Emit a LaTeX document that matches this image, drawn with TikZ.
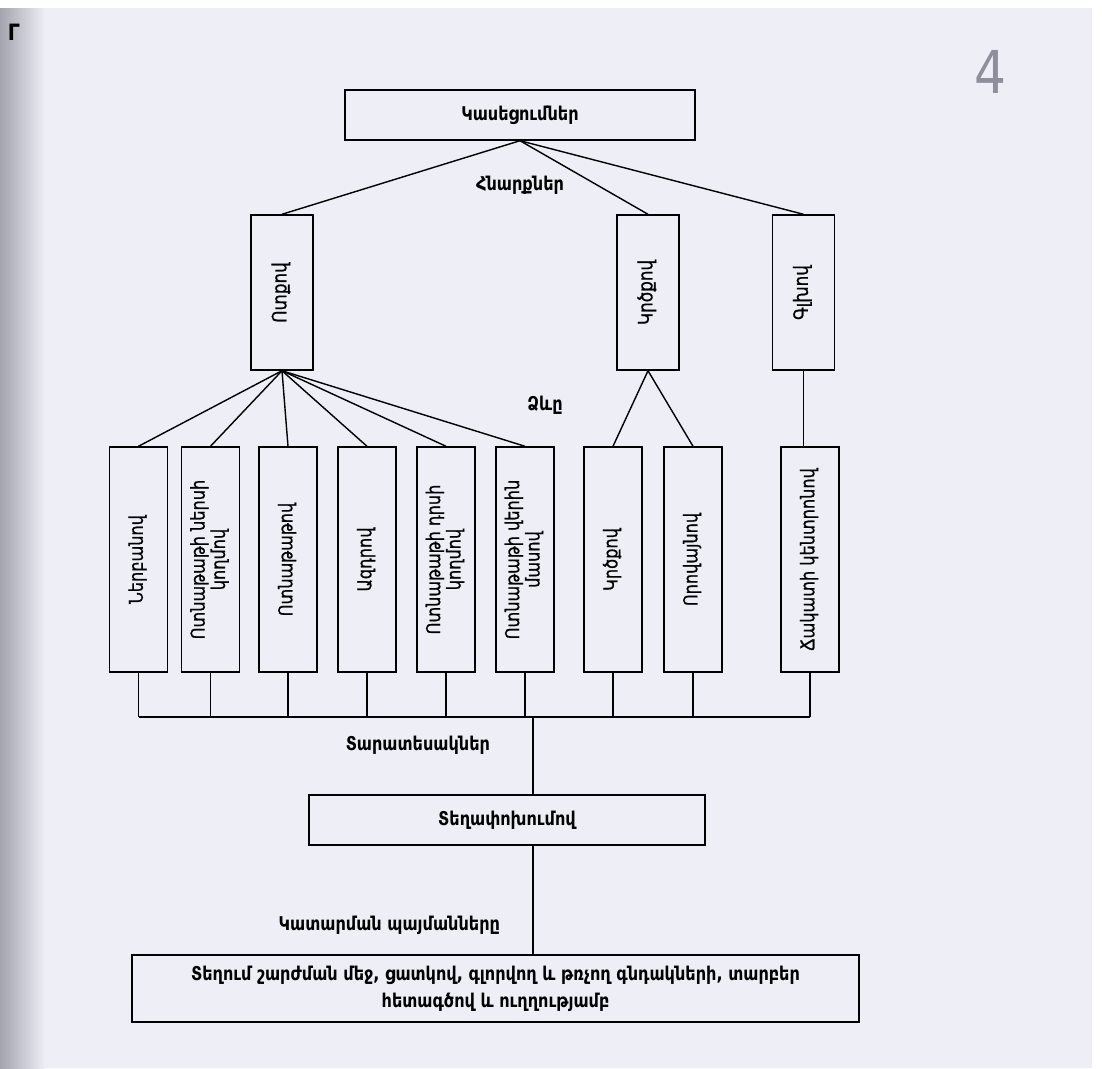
\documentclass[tikz,border=0pt]{standalone}
\usepackage{fontspec}
\setmainfont{DejaVu Sans}[FakeStretch=0.85]
\newfontfamily\colfont{DejaVu Sans}[FakeStretch=0.85, FakeBold=0.8]
\usetikzlibrary{positioning}
\definecolor{pagebg}{HTML}{EEEEF6}
\definecolor{pageshadow}{HTML}{A4A4B0}
\definecolor{pencil}{HTML}{8E8E9C}
\newcommand{\vtxt}[1]{\rotatebox{90}{\begin{tabular}{@{}c@{}}#1\end{tabular}}}

\begin{document}
\begin{tikzpicture}[
    x=0.025cm, y=-0.025cm,
    hbox/.style={draw, line width=1pt, inner sep=0pt, align=center, font=\fontsize{13.5}{19}\selectfont\bfseries},
    colbox/.style={draw, line width=1pt, inner sep=0pt, minimum width=1.55cm, minimum height=3.875cm, font=\colfont\fontsize{14}{15}\selectfont},
    leafbox/.style={draw, line width=1pt, inner sep=0pt, minimum width=1.45cm, minimum height=5.625cm, font=\colfont\fontsize{13.5}{14}\selectfont},
    tag/.style={font=\fontsize{13.5}{15}\selectfont\bfseries},
    link/.style={line width=1pt},
]

% Page
\useasboundingbox (0,0) rectangle (1102,1068);
\fill[white] (0,0) rectangle (1102,1068);
\fill[pagebg] (0,8) rectangle (1092,1068);
\shade[left color=pageshadow, right color=pagebg] (0,8) rectangle (45,1068);
\node[font=\fontsize{16}{16}\selectfont\bfseries] (pgmark) at (14,32) {Г};
\node[font=\fontsize{42}{42}\selectfont, text=pencil] (pgnum) at (990,72) {4};

% Top
\node[hbox, minimum width=8.75cm, minimum height=1.25cm] (kas) at (520,115) {Կասեցումներ};
\node[tag] (hnarq) at (520,185) {Հնարքներ};

% Level 2
\node[colbox] (otq) at (282,292.5) {\vtxt{Ոտքով}};
\node[colbox] (krc) at (648,292.5) {\vtxt{Կրծքով}};
\node[colbox] (glx) at (803.5,292.5) {\vtxt{Գլխով}};
\node[tag] (dzev) at (545,405) {Ձևը};

% Level 3
\node[leafbox] (b1) at (138.5,559.5) {\vtxt{Ներբանով}};
\node[leafbox] (b2) at (210.5,559.5) {\vtxt{Ոտնաթաթի ներսի\\կողմով}};
\node[leafbox] (b3) at (288,559.5) {\vtxt{Ոտնաթաթով}};
\node[leafbox] (b4) at (367,559.5) {\vtxt{Ազդրով}};
\node[leafbox] (b5) at (446,559.5) {\vtxt{Ոտնաթաթի դրսի\\կողմով}};
\node[leafbox] (b6) at (525,559.5) {\vtxt{Ոտնաթաթի վերին\\մասով}};
\node[leafbox] (b7) at (613,559.5) {\vtxt{Կրծքով}};
\node[leafbox] (b8) at (693,559.5) {\vtxt{Որովայնով}};
\node[leafbox] (b9) at (810,559.5) {\vtxt{Ճակատի կենտրոնով}};

% Lower part
\coordinate (bus) at (533,717);
\node[tag, anchor=east] (tarat) at (495,745) {Տարատեսակներ};
\node[hbox, minimum width=9.9cm, minimum height=1.25cm] (move) at (507,820) {Տեղափոխումով};
\node[tag, anchor=east] (katar) at (505,925) {Կատարման պայմանները};
\node[hbox, minimum width=18.175cm, minimum height=1.675cm] (cond) at (495.5,988.5) {Տեղում շարժման մեջ, ցատկով, գլորվող և թռչող գնդակների, տարբեր\\հետագծով և ուղղությամբ};

% Links
\draw[link] (kas.south) -- (otq.north);
\draw[link] (kas.south) -- (krc.north);
\draw[link] (kas.south) -- (glx.north);
\foreach \i in {1,...,6}
  \draw[link] (otq.south) -- (b\i.north);
\foreach \i in {7,8}
  \draw[link] (krc.south) -- (b\i.north);
\draw[link] (glx.south) -- (glx.south |- b9.north);

\foreach \i in {1,...,9}
  \draw[link] (b\i.south) -- (b\i.south |- bus);
\draw[link] (b1.south |- bus) -- (b9.south |- bus);
\draw[link] (bus) -- (bus |- move.north);
\draw[link] (bus |- move.south) -- (bus |- cond.north);

\end{tikzpicture}
\end{document}
